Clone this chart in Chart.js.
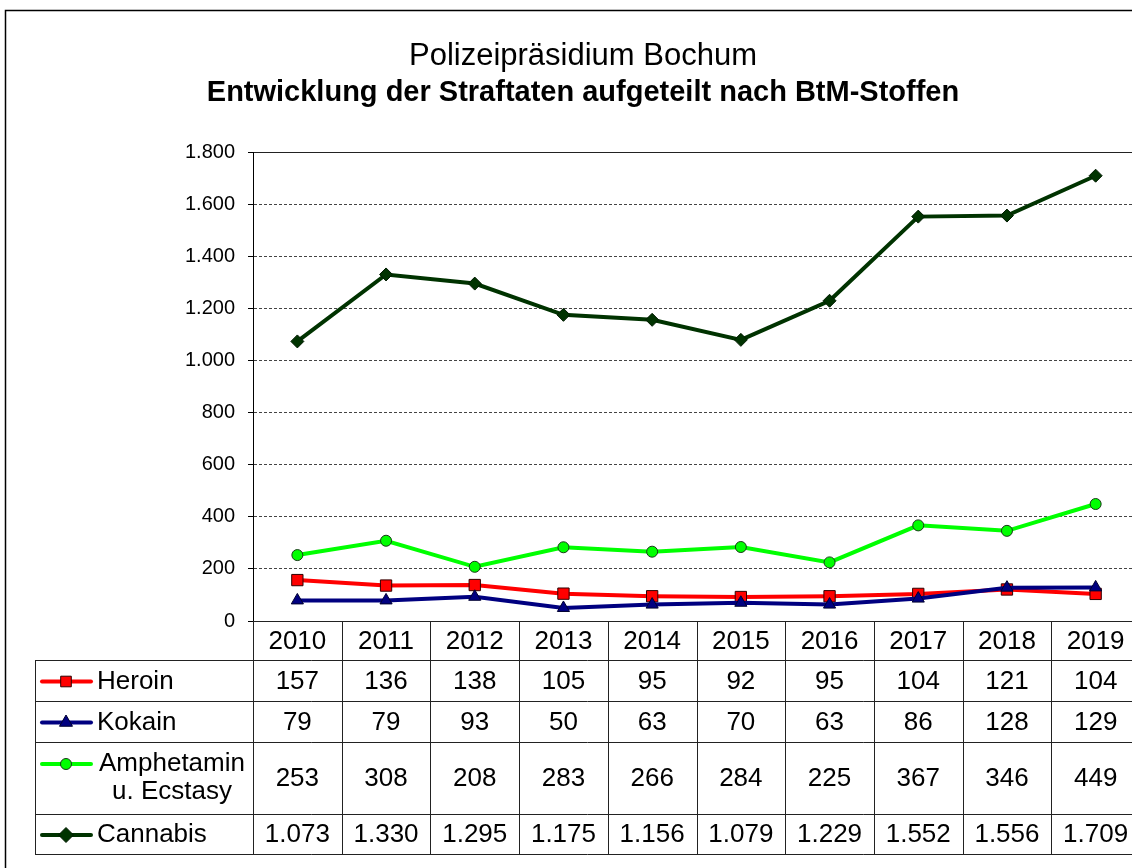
<!DOCTYPE html>
<html lang="de">
<head>
<meta charset="utf-8">
<title>Polizeipräsidium Bochum</title>
<script src="https://cdn.jsdelivr.net/npm/chart.js@4/dist/chart.umd.min.js"></script>
<style>
  html, body { margin: 0; padding: 0; background: #fff; overflow: hidden; }
  #wrap { width: 1160px; height: 868px; }
</style>
</head>
<body>
<div id="wrap"><canvas id="lineChart" width="1160" height="868"></canvas></div>
<script>
// Daten aus der Tabelle
const years = ['2010', '2011', '2012', '2013', '2014', '2015', '2016', '2017', '2018', '2019'];
const heroin = [157, 136, 138, 105, 95, 92, 95, 104, 121, 104];
const kokain = [79, 79, 93, 50, 63, 70, 63, 86, 128, 129];
const amphetamin = [253, 308, 208, 283, 266, 284, 225, 367, 346, 449];
const cannabis = [1073, 1330, 1295, 1175, 1156, 1079, 1229, 1552, 1556, 1709];
const seriesLabels = [['Heroin'], ['Kokain'], ['Amphetamin', 'u. Ecstasy'], ['Cannabis']];
const yTicks = [0, 200, 400, 600, 800, 1000, 1200, 1400, 1600, 1800];

const FONT = "'Liberation Sans', Arial, sans-serif";

// Tausenderpunkt wie im Original (1.073)
function fmt(v) {
  if (v >= 1000) return Math.floor(v / 1000) + '.' + String(v % 1000).padStart(3, '0');
  return String(v);
}

// kleine Marker für die Legende in der Tabelle
function drawMarker(c, style, x, y, r, fill, stroke) {
  c.save();
  c.fillStyle = fill;
  c.strokeStyle = stroke;
  c.lineWidth = 1;
  c.beginPath();
  if (style === 'rect') {
    const s = r * Math.SQRT1_2;
    c.rect(x - s, y - s, 2 * s, 2 * s);
  } else if (style === 'triangle') {
    c.moveTo(x, y - r);
    c.lineTo(x + r * 0.866, y + r * 0.5);
    c.lineTo(x - r * 0.866, y + r * 0.5);
    c.closePath();
  } else if (style === 'rectRot') {
    c.moveTo(x - r, y); c.lineTo(x, y - r); c.lineTo(x + r, y); c.lineTo(x, y + r);
    c.closePath();
  } else {
    c.arc(x, y, r, 0, Math.PI * 2);
  }
  c.fill();
  c.stroke();
  c.restore();
}

const datasets = [
  { label: 'Heroin', data: heroin, borderColor: '#ff0000', backgroundColor: '#ff0000',
    pointStyle: 'rect', pointRadius: 8, pointBorderColor: '#300000', order: 3 },
  { label: 'Kokain', data: kokain, borderColor: '#000080', backgroundColor: '#000080',
    pointStyle: 'triangle', pointRadius: 7, pointBorderColor: '#000030', order: 2 },
  { label: 'Amphetamin u. Ecstasy', data: amphetamin, borderColor: '#00ff00', backgroundColor: '#00ff00',
    pointStyle: 'circle', pointRadius: 5.5, pointBorderColor: '#1a3a1a', order: 1 },
  { label: 'Cannabis', data: cannabis, borderColor: '#003300', backgroundColor: '#003300',
    pointStyle: 'rectRot', pointRadius: 6.5, pointBorderColor: '#001a00', order: 0 },
].map((d) => Object.assign({ borderWidth: 4, pointBorderWidth: 1, tension: 0, fill: false }, d));

// Rahmen aussen
const framePlugin = {
  id: 'frame',
  beforeDraw(chart) {
    const c = chart.ctx;
    c.save();
    c.fillStyle = '#fff';
    c.fillRect(0, 0, chart.width, chart.height);
    c.strokeStyle = '#000';
    c.lineWidth = 1.5;
    c.strokeRect(5.5, 10.5, chart.width + 20, chart.height + 20);
    c.restore();
  },
};

// Datentabelle unter dem Diagramm
const tablePlugin = {
  id: 'dataTable',
  afterDraw(chart) {
    const c = chart.ctx;
    const area = chart.chartArea;
    const xs = chart.scales.x;
    const colW = (area.right - area.left) / years.length;
    const rows = [660, 701, 742, 814, 854];
    const tableLeft = 35;
    const rowData = [heroin, kokain, amphetamin, cannabis];

    c.save();
    c.strokeStyle = '#222';
    c.lineWidth = 1;
    c.beginPath();
    rows.forEach((y) => { c.moveTo(tableLeft, y + 0.5); c.lineTo(area.right, y + 0.5); });
    c.moveTo(tableLeft + 0.5, rows[0]); c.lineTo(tableLeft + 0.5, rows[rows.length - 1]);
    for (let k = 0; k <= years.length; k++) {
      const x = Math.round(area.left + k * colW) + 0.5;
      c.moveTo(x, area.bottom); c.lineTo(x, rows[rows.length - 1]);
    }
    c.stroke();

    c.fillStyle = '#000';
    c.font = '26px ' + FONT;
    c.textAlign = 'center';
    c.textBaseline = 'middle';
    years.forEach((yr, i) => c.fillText(yr, xs.getPixelForValue(i), (area.bottom + rows[0]) / 2 + 1));

    rowData.forEach((vals, r) => {
      const yMid = (rows[r] + rows[r + 1]) / 2 + 1;
      vals.forEach((v, i) => c.fillText(fmt(v), xs.getPixelForValue(i), yMid));

      // Legendensymbol
      const ds = datasets[r];
      const my = yMid - (seriesLabels[r].length > 1 ? 15 : 0);
      c.save();
      c.strokeStyle = ds.borderColor;
      c.lineWidth = 4;
      c.lineCap = 'round';
      c.beginPath(); c.moveTo(42, my); c.lineTo(91, my);
      c.stroke();
      c.restore();
      drawMarker(c, ds.pointStyle, 66, my, ds.pointStyle === 'circle' ? 5.5 : 7.5, ds.backgroundColor, ds.pointBorderColor);

      const lines = seriesLabels[r];
      if (lines.length === 1) {
        c.textAlign = 'left';
        c.fillText(lines[0], 97, yMid);
      } else {
        c.textAlign = 'center';
        c.fillText(lines[0], 172, yMid - 15);
        c.fillText(lines[1], 172, yMid + 13);
      }
      c.textAlign = 'center';
    });
    c.restore();
  },
};

const ctx = document.getElementById('lineChart').getContext('2d');
new Chart(ctx, {
  type: 'line',
  data: { labels: years, datasets: datasets },
  plugins: [framePlugin, tablePlugin],
  options: {
    responsive: false,
    animation: false,
    layout: { padding: { left: 26, right: 20, top: 10, bottom: 247 } },
    plugins: {
      legend: { display: false },
      tooltip: { enabled: false },
      title: {
        display: true,
        text: 'Polizeipräsidium Bochum',
        color: '#000',
        font: { family: FONT, size: 31, weight: 'normal' },
        padding: { top: 28, bottom: 0 },
      },
      subtitle: {
        display: true,
        text: 'Entwicklung der Straftaten aufgeteilt nach BtM-Stoffen',
        color: '#000',
        font: { family: FONT, size: 29, weight: 'bold' },
        padding: { top: 0, bottom: 42 },
      },
    },
    scales: {
      x: { type: 'category', offset: true, display: false },
      y: {
        min: 0,
        max: 1800,
        afterFit: (axis) => { axis.width = 227; },
        afterBuildTicks: (axis) => { axis.ticks = yTicks.map((v) => ({ value: v })); },
        ticks: {
          color: '#000',
          padding: 13,
          font: { family: FONT, size: 20 },
          callback: (value) => fmt(value),
        },
        grid: {
          color: (c) => (c.tick && (c.tick.value === 0 || c.tick.value === 1800) ? '#222' : '#444'),
          lineWidth: 1,
          tickLength: 5,
          tickColor: '#000',
          tickBorderDash: [],
        },
        border: {
          display: true,
          color: '#000',
          width: 1,
          dash: (c) => (c.tick && (c.tick.value === 0 || c.tick.value === 1800) ? [] : [3, 2]),
        },
      },
    },
  },
});
</script>
</body>
</html>
